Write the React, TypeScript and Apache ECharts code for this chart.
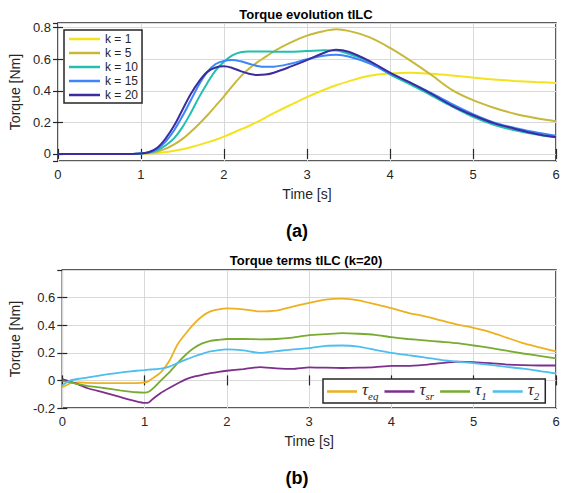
import React, { useEffect, useRef } from "react";
import * as echarts from "echarts";

// ---------- Data: (a) Torque evolution tILC ----------
const timeA = [0, 0.9, 1.0, 1.1, 1.2, 1.3, 1.4, 1.5, 1.6, 1.7, 1.8, 1.9, 2.0, 2.1, 2.2, 2.3, 2.4, 2.5, 2.6, 2.8, 3.0, 3.2, 3.35, 3.5, 3.75, 4.0, 4.25, 4.5, 4.75, 5.0, 5.25, 5.5, 5.75, 6.0];
const k1 = [0, 0, 0, 0.002, 0.006, 0.012, 0.02, 0.03, 0.042, 0.057, 0.073, 0.09, 0.11, 0.132, 0.155, 0.177, 0.203, 0.23, 0.258, 0.31, 0.36, 0.405, 0.435, 0.46, 0.495, 0.51, 0.515, 0.508, 0.497, 0.484, 0.472, 0.463, 0.456, 0.45];
const k5 = [0, 0, 0.001, 0.005, 0.015, 0.033, 0.06, 0.095, 0.14, 0.19, 0.245, 0.305, 0.365, 0.43, 0.49, 0.54, 0.58, 0.615, 0.65, 0.705, 0.75, 0.778, 0.79, 0.78, 0.74, 0.672, 0.59, 0.5, 0.405, 0.341, 0.293, 0.255, 0.228, 0.207];
const k10 = [0, 0, 0.002, 0.008, 0.024, 0.055, 0.1, 0.17, 0.26, 0.36, 0.45, 0.53, 0.585, 0.625, 0.645, 0.65, 0.65, 0.65, 0.648, 0.648, 0.652, 0.658, 0.655, 0.635, 0.585, 0.505, 0.44, 0.37, 0.3, 0.235, 0.185, 0.15, 0.125, 0.105];
const k15 = [0, 0, 0.003, 0.01, 0.033, 0.08, 0.15, 0.24, 0.34, 0.44, 0.52, 0.57, 0.59, 0.595, 0.587, 0.572, 0.558, 0.552, 0.553, 0.572, 0.6, 0.622, 0.628, 0.618, 0.575, 0.51, 0.45, 0.385, 0.315, 0.252, 0.2, 0.165, 0.138, 0.115];
const k20 = [0, 0, 0.003, 0.012, 0.04, 0.1, 0.18, 0.28, 0.38, 0.46, 0.52, 0.548, 0.555, 0.545, 0.525, 0.508, 0.5, 0.503, 0.515, 0.553, 0.595, 0.64, 0.66, 0.648, 0.59, 0.516, 0.45, 0.38, 0.305, 0.245, 0.195, 0.16, 0.128, 0.105];
const namesA = ["k = 1", "k = 5", "k = 10", "k = 15", "k = 20"];
const colorsA = ["#F5E21E", "#C8B83A", "#21BFB0", "#3D85F8", "#3B2D9F"];

// ---------- Data: (b) Torque terms tILC (k=20) ----------
const timeB = [0, 0.05, 0.1, 0.2, 0.3, 0.5, 0.7, 0.9, 1.0, 1.05, 1.1, 1.2, 1.3, 1.4, 1.5, 1.6, 1.7, 1.8, 1.9, 2.0, 2.2, 2.4, 2.6, 2.8, 3.0, 3.2, 3.4, 3.6, 3.8, 4.0, 4.2, 4.4, 4.6, 4.8, 5.0, 5.2, 5.4, 5.6, 5.8, 6.0];
const tauEq = [-0.05, -0.035, -0.02, -0.015, -0.018, -0.02, -0.02, -0.02, -0.015, -0.005, 0.015, 0.06, 0.14, 0.26, 0.34, 0.41, 0.465, 0.5, 0.515, 0.522, 0.515, 0.5, 0.506, 0.535, 0.562, 0.585, 0.592, 0.58, 0.552, 0.523, 0.49, 0.465, 0.435, 0.405, 0.38, 0.35, 0.31, 0.27, 0.24, 0.21];
const tauSr = [0.01, 0.0, -0.01, -0.03, -0.055, -0.087, -0.12, -0.152, -0.163, -0.16, -0.135, -0.09, -0.055, -0.022, 0.008, 0.028, 0.04, 0.052, 0.062, 0.07, 0.082, 0.096, 0.087, 0.083, 0.095, 0.092, 0.09, 0.092, 0.096, 0.105, 0.105, 0.113, 0.125, 0.135, 0.133, 0.125, 0.115, 0.11, 0.108, 0.108];
const tau1 = [-0.005, -0.01, -0.015, -0.028, -0.04, -0.055, -0.072, -0.086, -0.088, -0.082, -0.06, 0.0, 0.058, 0.125, 0.186, 0.234, 0.268, 0.287, 0.294, 0.3, 0.3, 0.298, 0.3, 0.31, 0.328, 0.335, 0.342, 0.338, 0.33, 0.313, 0.3, 0.29, 0.28, 0.27, 0.253, 0.235, 0.215, 0.195, 0.178, 0.16];
const tau2 = [-0.035, -0.015, 0.0, 0.012, 0.02, 0.04, 0.056, 0.07, 0.075, 0.078, 0.08, 0.085, 0.1, 0.125, 0.15, 0.173, 0.193, 0.21, 0.22, 0.225, 0.217, 0.2, 0.212, 0.225, 0.234, 0.25, 0.253, 0.245, 0.222, 0.2, 0.183, 0.167, 0.148, 0.135, 0.125, 0.112, 0.098, 0.085, 0.068, 0.05];
const namesB = ["eq", "sr", "1", "2"];
const colorsB = ["#EDB120", "#7E2F8E", "#77AC30", "#4DBEEE"];

const FONT = "'Liberation Sans', Arial, sans-serif";
const SERIF = "'Liberation Serif', 'DejaVu Serif', serif";
const INK = "#262626";

const zip = (t: number[], v: number[]) => t.map((x, i) => [x, v[i]]);

const fmtY = (v: number) => (Math.abs(v) < 1e-9 ? "0" : String(+v.toFixed(1)));

function xAxes(grid: number) {
  const common = {
    gridIndex: grid,
    type: "value" as const,
    min: 0,
    max: 6,
    interval: 1,
    axisLine: { show: false },
    axisTick: { show: true, inside: true, length: 5, lineStyle: { color: INK, width: 1.2 } },
  };
  return [
    {
      ...common,
      position: "bottom",
      axisLabel: { color: INK, fontSize: 13, fontFamily: FONT, margin: 7 },
      splitLine: { show: true, lineStyle: { color: "#d9d9d9", width: 1 } },
      name: "Time [s]",
      nameLocation: "middle",
      nameGap: 26,
      nameTextStyle: { color: INK, fontSize: 14, fontFamily: FONT },
    },
    {
      ...common,
      position: "top",
      axisLabel: { show: false },
      splitLine: { show: false },
    },
  ];
}

function yAxes(grid: number, min: number, max: number, hideMin: boolean) {
  const common = {
    gridIndex: grid,
    type: "value" as const,
    min,
    max,
    minInterval: 0.2,
    maxInterval: 0.2,
    splitNumber: 5,
    axisLine: { show: false },
    axisTick: { show: true, inside: true, length: 5, lineStyle: { color: INK, width: 1.2 } },
  };
  return [
    {
      ...common,
      position: "left",
      axisLabel: {
        color: INK,
        fontSize: 13,
        fontFamily: FONT,
        margin: 7,
        showMinLabel: !hideMin,
        showMaxLabel: false,
        formatter: fmtY,
      },
      splitLine: { show: true, lineStyle: { color: "#d9d9d9", width: 1 } },
      name: "Torque [Nm]",
      nameLocation: "middle",
      nameGap: 29,
      nameTextStyle: { color: INK, fontSize: 14, fontFamily: FONT },
    },
    {
      ...common,
      position: "right",
      axisLabel: { show: false },
      splitLine: { show: false },
    },
  ];
}

export default function App() {
  const ref = useRef<HTMLDivElement>(null);
  useEffect(() => {
    document.body.style.margin = "0";
    const chart = echarts.init(ref.current!, null, { renderer: "svg" });

    const seriesA = [k1, k5, k10, k15, k20].map((vals, i) => ({
      type: "line",
      name: namesA[i],
      xAxisIndex: 0,
      yAxisIndex: 0,
      data: zip(timeA, vals),
      smooth: 0.35,
      symbol: "none",
      showSymbol: false,
      color: colorsA[i],
      lineStyle: { width: 2, color: colorsA[i] },
      z: 3 + i,
    }));
    const seriesB = [tauEq, tauSr, tau1, tau2].map((vals, i) => ({
      type: "line",
      name: namesB[i],
      xAxisIndex: 2,
      yAxisIndex: 2,
      data: zip(timeB, vals),
      smooth: 0.2,
      symbol: "none",
      showSymbol: false,
      color: colorsB[i],
      lineStyle: { width: 1.8, color: colorsB[i] },
      z: 3 + i,
    }));

    const option: any = {
      animation: false,
      backgroundColor: "#ffffff",
      grid: [
        { left: 57, top: 23, width: 499, height: 138, show: true, borderColor: INK, borderWidth: 1.5, backgroundColor: "#fff" },
        { left: 57, top: 270, width: 499, height: 138, show: true, borderColor: INK, borderWidth: 1.5, backgroundColor: "#fff" },
      ],
      xAxis: [...xAxes(0), ...xAxes(1)],
      yAxis: [...yAxes(0, -0.045, 0.83, true), ...yAxes(1, -0.2, 0.8, false)],
      legend: [
        {
          data: namesA,
          orient: "vertical",
          left: 64,
          top: 30,
          icon: "rect",
          itemWidth: 31,
          itemHeight: 2.5,
          itemGap: 0,
          padding: [2, 4, 1, 5],
          borderColor: INK,
          borderWidth: 1.5,
          borderRadius: 0,
          backgroundColor: "#fff",
          textStyle: { color: INK, fontSize: 12, fontFamily: FONT, lineHeight: 14 },
          z: 10,
        },
        {
          data: namesB,
          orient: "horizontal",
          left: 323,
          top: 379,
          icon: "rect",
          itemWidth: 30,
          itemHeight: 2.5,
          itemGap: 6,
          padding: [2, 6, 2, 4],
          borderColor: INK,
          borderWidth: 1.5,
          borderRadius: 0,
          backgroundColor: "#fff",
          formatter: (name: string) => `{t|τ}{s|${name}}`,
          textStyle: {
            color: INK,
            rich: {
              t: { fontFamily: SERIF, fontStyle: "italic", fontSize: 17, color: INK, verticalAlign: "bottom", padding: [0, 0, 3, 0], lineHeight: 19 },
              s: { fontFamily: SERIF, fontStyle: "italic", fontSize: 11, color: INK, verticalAlign: "bottom", lineHeight: 19 },
            },
          },
          z: 10,
        },
      ],
      graphic: [
        { type: "text", x: 306, y: 14, style: { text: "Torque evolution tILC", font: `bold 13px ${FONT}`, fill: "#000", textAlign: "center", textVerticalAlign: "middle" } },
        { type: "text", x: 306, y: 260, style: { text: "Torque terms tILC (k=20)", font: `bold 13px ${FONT}`, fill: "#000", textAlign: "center", textVerticalAlign: "middle" } },
        { type: "text", x: 297, y: 231, style: { text: "(a)", font: `bold 18px ${FONT}`, fill: "#000", textAlign: "center", textVerticalAlign: "middle" } },
        { type: "text", x: 297, y: 478, style: { text: "(b)", font: `bold 18px ${FONT}`, fill: "#000", textAlign: "center", textVerticalAlign: "middle" } },
      ],
      series: [...seriesA, ...seriesB],
    };
    chart.setOption(option);
    return () => chart.dispose();
  }, []);
  return <div ref={ref} style={{ width: 567, height: 493, position: "absolute", left: 0, top: 0, background: "#fff" }} />;
}
